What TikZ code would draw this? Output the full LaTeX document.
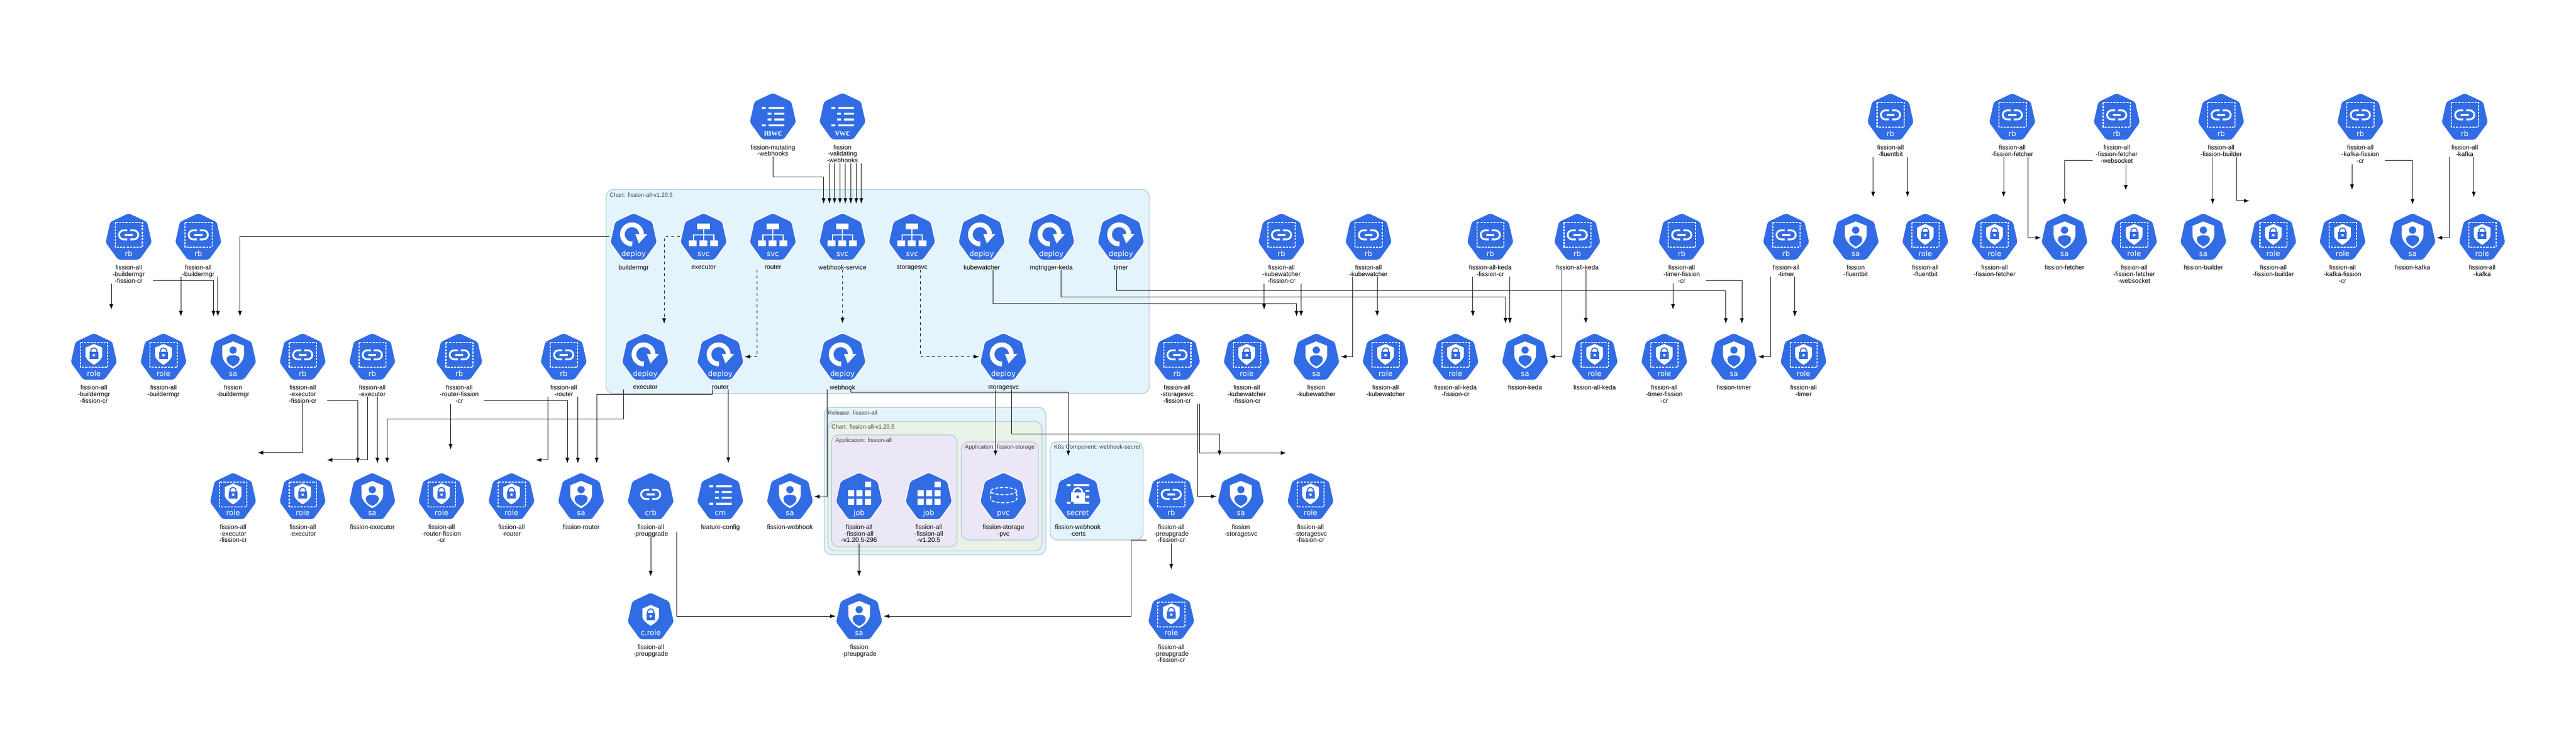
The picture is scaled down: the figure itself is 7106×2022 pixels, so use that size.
\documentclass[tikz,border=0pt]{standalone}
\usepackage{fontspec}
\setmainfont{Liberation Sans}
\newfontfamily\iconfont{DejaVu Sans}
\newfontfamily\iconserif{Liberation Serif}
\usetikzlibrary{arrows.meta}

\definecolor{kubeblue}{HTML}{326CE5}
\definecolor{boxline}{HTML}{B4C6D4}
\definecolor{boxblue}{HTML}{E3F4FD}
\definecolor{boxgreen}{HTML}{E9F2E6}
\definecolor{boxlilac}{HTML}{EBE7F6}

\tikzset{
	kubefill/.style={fill=kubeblue,draw=white,line width=0.025cm,rounded corners=0.07cm},
	kubetext/.style={anchor=base,inner sep=0pt,text=white,font=\iconfont\fontsize{5.7}{6}\selectfont},
	kubelabel/.style={anchor=north,inner sep=0pt,align=center,font=\fontsize{5}{5.12}\selectfont},
	kubenode/.style={minimum size=0.01cm,inner sep=0pt},
	boxtitle/.style={anchor=west,inner sep=0pt,text=black!75,font=\fontsize{4.55}{5}\selectfont},
	cluster/.style={draw=boxline,line width=0.02cm,rounded corners=0.2cm},
	link/.style={draw=black,line width=0.013cm,-{Latex[length=0.15cm,width=0.11cm]}},
	dashlink/.style={link,dash pattern=on 0.08cm off 0.08cm}
}

% glyphs inside the heptagon
\newcommand{\glyphbox}{\draw[white,line width=0.03cm,dash pattern=on 0.06cm off 0.03cm] (-37,-39) rectangle (38,29);}
\newcommand{\glyphchain}{
	\draw[white,line width=0.05cm] (-4,-17.5) -- (-14,-17.5) arc[start angle=90,delta angle=180,radius=0.125cm] -- (-4,7.5);
	\draw[white,line width=0.05cm] (4,7.5) -- (14,7.5) arc[start angle=-90,delta angle=180,radius=0.125cm] -- (4,-17.5);
	\fill[white] (-11,-8) rectangle (11,-2);
}
\newcommand{\glyphrb}{\glyphbox\glyphchain}
\newcommand{\glyphlock}{
	\fill[white] (0,-35) -- (23,-25) -- (23,-3) .. controls (23,6) and (10,17) .. (0,22.5) .. controls (-10,17) and (-23,6) .. (-23,-3) -- (-23,-25) -- cycle;
	\draw[kubeblue,line width=0.03cm] (-8.5,-13) -- (-8.5,-15.5) arc[start angle=180,delta angle=-180,radius=0.085cm] -- (8.5,-13);
	\fill[kubeblue] (-12,-13) rectangle (12,7);
	\fill[white] (0,-4) circle[radius=0.035cm];
}
\newcommand{\glyphrole}{\glyphbox\glyphlock}
\newcommand{\glyphcrole}{\begin{scope}[shift={(0,4)}]\glyphlock\end{scope}}
\newcommand{\glyphsa}{
	\fill[white] (0,-42) -- (30,-30) -- (30,-5) .. controls (30,12) and (13,27) .. (0,33) .. controls (-13,27) and (-30,12) .. (-30,-5) -- (-30,-30) -- cycle;
	\fill[kubeblue] (0,-18) circle[radius=0.1cm];
	\fill[kubeblue] (0,27) .. controls (-10,22) and (-18,17) .. (-18,7) .. controls (-18,-1) and (-10,-4) .. (0,-4) .. controls (10,-4) and (18,-1) .. (18,7) .. controls (18,17) and (10,22) .. (0,27) -- cycle;
}
\newcommand{\glyphdeploy}{
	\draw[white,line width=0.13cm] (-3.8,20.2) arc[start angle=-88,delta angle=-270,radius=0.265cm];
	\fill[white] (4.3,-7.3) -- (38,-7.3) -- (14.3,18.7) -- cycle;
}
\newcommand{\glyphsvc}{
	\fill[white] (-17.7,-36.3) rectangle (16.7,-20.7);
	\draw[white,line width=0.03cm] (0,-21) -- (0,11) (-28,11) -- (-28,-5.3) -- (28,-5.3) -- (28,11);
	\fill[white] (-41,10.3) rectangle (-19.3,26) (-11.7,10.3) rectangle (10,26) (18,10.3) rectangle (39.7,26);
}
\newcommand{\glyphlist}[1]{\begin{scope}[shift={(0,#1)}]
	\fill[white] (-30.7,-30) rectangle (-19.7,-24.5) (-11.7,-30) rectangle (31.7,-24.5);
	\fill[white] (-14.7,-14) rectangle (-4,-8.7) (4,-14) rectangle (31.7,-8.7);
	\fill[white] (-14.7,2) rectangle (-4,7.3) (4,2) rectangle (31.7,7.3);
	\fill[white] (-30.7,18) rectangle (-19.7,23.5) (-11.7,18) rectangle (31.7,23.5);
\end{scope}}
\newcommand{\glyphcm}{\glyphlist{0}}
\newcommand{\glyphwc}{\glyphlist{4}}
\newcommand{\glyphjob}{
	\fill[white] (16,-40.7) rectangle (32.7,-24);
	\fill[white] (-30.7,-16.7) rectangle (-14,0) (-7.3,-16.7) rectangle (9.3,0) (16,-16.7) rectangle (32.7,0);
	\fill[white] (-30.7,7.3) rectangle (-14,23.7) (-7.3,7.3) rectangle (9.3,23.7) (16,7.3) rectangle (32.7,23.7);
}
\newcommand{\glyphpvc}{
	\draw[white,line width=0.028cm,dash pattern=on 0.09cm off 0.045cm] (0.7,-14) ellipse[x radius=0.36cm,y radius=0.1cm];
	\draw[white,line width=0.028cm,dash pattern=on 0.09cm off 0.045cm] (-35.3,-14) -- (-35.3,8) arc[start angle=180,end angle=360,x radius=0.36cm,y radius=0.1cm] -- (36.7,-14);
}
\newcommand{\glyphsecret}{
	\fill[white] (-30.3,-33.3) rectangle (-19.7,-28) (-11.3,-33.3) rectangle (32,-28);
	\fill[white] (22,-17.3) rectangle (32,-12) (22,-1.3) rectangle (32,4.7);
	\fill[white] (-30.3,15.3) rectangle (-19.7,21) (-11.3,15.3) rectangle (32,21);
	\draw[kubeblue,line width=0.08cm] (-12.5,-10) arc[start angle=180,delta angle=-180,radius=0.125cm];
	\draw[white,line width=0.045cm] (-12.5,-10) arc[start angle=180,delta angle=-180,radius=0.125cm];
	\fill[white] (-19,-10.7) rectangle (20.7,15.3);
	\fill[kubeblue] (0,2) circle[radius=0.04cm];
}

% name, x, y, glyph, icon text, label
\newcommand{\kube}[6]{
	\begin{scope}[shift={(#2,#3)}]
		\filldraw[kubefill] (0,-66) -- (52,-41.5) -- (65,16.5) -- (30,65) -- (-30,65) -- (-65,16.5) -- (-52,-41.5) -- cycle;
		#4
		\node[kubenode] (#1) at (0,0) {};
		\node[kubetext] (#1text) at (0,53.5) {#5};
		\node[kubelabel] (#1label) at (0,78) {#6};
	\end{scope}
}

\begin{document}
\begin{tikzpicture}[x=0.01cm,y=-0.01cm]
\useasboundingbox (0,0) rectangle (7106,2022);

% clusters
\draw[cluster,fill=boxblue] (1672,523) rectangle (3170,1086);
\node[boxtitle] (charttitle) at (1681,538) {Chart: fission-all-v1.20.5};
\draw[cluster,fill=boxblue] (2273.5,1124) rectangle (2885,1530.5);
\node[boxtitle] (releasetitle) at (2283,1139) {Release: fission-all};
\draw[cluster,fill=boxgreen] (2284,1162.5) rectangle (2874.5,1520);
\node[boxtitle] (subcharttitle) at (2293,1177) {Chart: fission-all-v1.20.5};
\draw[cluster,fill=boxlilac] (2294,1200) rectangle (2640,1509);
\node[boxtitle] (apptitle) at (2304,1216) {Application: fission-all};
\draw[cluster,fill=boxlilac] (2652,1219) rectangle (2864,1490);
\node[boxtitle] (storagetitle) at (2661,1235) {Application: fission-storage};
\draw[cluster,fill=boxblue] (2897,1219) rectangle (3153,1490);
\node[boxtitle] (secrettitle) at (2907,1235) {K8s Component: webhook-secret};

% top row
\kube{mwc}{2132}{321}{\glyphwc}{\iconserif\bfseries\fontsize{7}{7}\selectfont mwc}{fission-mutating\\-webhooks}
\kube{vwc}{2324}{321}{\glyphwc}{\iconserif\bfseries\fontsize{7}{7}\selectfont vwc}{fission\\-validating\\-webhooks}
\kube{rbFluent}{5215}{322}{\glyphrb}{rb}{fission-all\\-fluentbit}
\kube{rbFetcher}{5551}{322}{\glyphrb}{rb}{fission-all\\-fission-fetcher}
\kube{rbWs}{5839}{322}{\glyphrb}{rb}{fission-all\\-fission-fetcher\\-websocket}
\kube{rbBuilder}{6127}{322}{\glyphrb}{rb}{fission-all\\-fission-builder}
\kube{rbKafkaCr}{6511}{322}{\glyphrb}{rb}{fission-all\\-kafka-fission\\-cr}
\kube{rbKafka}{6799}{322}{\glyphrb}{rb}{fission-all\\-kafka}

% second row
\kube{rbBmgrCr}{355}{653}{\glyphrb}{rb}{fission-all\\-buildermgr\\-fission-cr}
\kube{rbBmgr}{547}{653}{\glyphrb}{rb}{fission-all\\-buildermgr}
\kube{deployBmgr}{1748}{653}{\glyphdeploy}{deploy}{buildermgr}
\kube{svcExec}{1941}{653}{\glyphsvc}{svc}{executor}
\kube{svcRouter}{2132}{653}{\glyphsvc}{svc}{router}
\kube{svcWebhook}{2324}{653}{\glyphsvc}{svc}{webhook-service}
\kube{svcStorage}{2516}{653}{\glyphsvc}{svc}{storagesvc}
\kube{deployKube}{2708}{653}{\glyphdeploy}{deploy}{kubewatcher}
\kube{deployKeda}{2900}{653}{\glyphdeploy}{deploy}{mqtrigger-keda}
\kube{deployTimer}{3092}{653}{\glyphdeploy}{deploy}{timer}
\kube{rbKubeCr}{3535}{653}{\glyphrb}{rb}{fission-all\\-kubewatcher\\-fission-cr}
\kube{rbKube}{3775}{653}{\glyphrb}{rb}{fission-all\\-kubewatcher}
\kube{rbKedaCr}{4111}{653}{\glyphrb}{rb}{fission-all-keda\\-fission-cr}
\kube{rbKeda}{4351}{653}{\glyphrb}{rb}{fission-all-keda}
\kube{rbTimerCr}{4639}{653}{\glyphrb}{rb}{fission-all\\-timer-fission\\-cr}
\kube{rbTimer}{4927}{653}{\glyphrb}{rb}{fission-all\\-timer}
\kube{saFluent}{5119}{653}{\glyphsa}{sa}{fission\\-fluentbit}
\kube{roleFluent}{5311}{653}{\glyphrole}{role}{fission-all\\-fluentbit}
\kube{roleFetcher}{5502}{653}{\glyphrole}{role}{fission-all\\-fission-fetcher}
\kube{saFetcher}{5695}{653}{\glyphsa}{sa}{fission-fetcher}
\kube{roleWs}{5887}{653}{\glyphrole}{role}{fission-all\\-fission-fetcher\\-websocket}
\kube{saBuilder}{6078}{653}{\glyphsa}{sa}{fission-builder}
\kube{roleBuilder}{6271}{653}{\glyphrole}{role}{fission-all\\-fission-builder}
\kube{roleKafkaCr}{6462}{653}{\glyphrole}{role}{fission-all\\-kafka-fission\\-cr}
\kube{saKafka}{6655}{653}{\glyphsa}{sa}{fission-kafka}
\kube{roleKafka}{6847}{653}{\glyphrole}{role}{fission-all\\-kafka}

% third row
\kube{roleBmgrCr}{259}{984}{\glyphrole}{role}{fission-all\\-buildermgr\\-fission-cr}
\kube{roleBmgr}{451}{984}{\glyphrole}{role}{fission-all\\-buildermgr}
\kube{saBmgr}{643}{984}{\glyphsa}{sa}{fission\\-buildermgr}
\kube{rbExecCr}{835}{984}{\glyphrb}{rb}{fission-all\\-executor\\-fission-cr}
\kube{rbExec}{1027}{984}{\glyphrb}{rb}{fission-all\\-executor}
\kube{rbRouterCr}{1267}{984}{\glyphrb}{rb}{fission-all\\-router-fission\\-cr}
\kube{rbRouter}{1555}{984}{\glyphrb}{rb}{fission-all\\-router}
\kube{deployExec}{1780}{984}{\glyphdeploy}{deploy}{executor}
\kube{deployRouter}{1987}{984}{\glyphdeploy}{deploy}{router}
\kube{deployWebhook}{2324}{984}{\glyphdeploy}{deploy}{webhook}
\kube{deployStorage}{2768}{984}{\glyphdeploy}{deploy}{storagesvc}
\kube{rbStorageCr}{3247}{984}{\glyphrb}{rb}{fission-all\\-storagesvc\\-fission-cr}
\kube{roleKubeCr}{3439}{984}{\glyphrole}{role}{fission-all\\-kubewatcher\\-fission-cr}
\kube{saKube}{3631}{984}{\glyphsa}{sa}{fission\\-kubewatcher}
\kube{roleKube}{3822}{984}{\glyphrole}{role}{fission-all\\-kubewatcher}
\kube{roleKedaCr}{4015}{984}{\glyphrole}{role}{fission-all-keda\\-fission-cr}
\kube{saKeda}{4207}{984}{\glyphsa}{sa}{fission-keda}
\kube{roleKeda}{4399}{984}{\glyphrole}{role}{fission-all-keda}
\kube{roleTimerCr}{4591}{984}{\glyphrole}{role}{fission-all\\-timer-fission\\-cr}
\kube{saTimer}{4783}{984}{\glyphsa}{sa}{fission-timer}
\kube{roleTimer}{4975}{984}{\glyphrole}{role}{fission-all\\-timer}

% fourth row
\kube{roleExecCr}{643}{1369}{\glyphrole}{role}{fission-all\\-executor\\-fission-cr}
\kube{roleExec}{835}{1369}{\glyphrole}{role}{fission-all\\-executor}
\kube{saExec}{1027}{1369}{\glyphsa}{sa}{fission-executor}
\kube{roleRouterCr}{1218}{1369}{\glyphrole}{role}{fission-all\\-router-fission\\-cr}
\kube{roleRouter}{1411}{1369}{\glyphrole}{role}{fission-all\\-router}
\kube{saRouter}{1603}{1369}{\glyphsa}{sa}{fission-router}
\kube{crbPre}{1795}{1369}{\glyphchain}{crb}{fission-all\\-preupgrade}
\kube{cmFeature}{1987}{1369}{\glyphcm}{cm}{feature-config}
\kube{saWebhook}{2179}{1369}{\glyphsa}{sa}{fission-webhook}
\kube{jobOne}{2370}{1369}{\glyphjob}{job}{fission-all\\-fission-all\\-v1.20.5-296}
\kube{jobTwo}{2562}{1369}{\glyphjob}{job}{fission-all\\-fission-all\\-v1.20.5}
\kube{pvcStorage}{2768}{1369}{\glyphpvc}{pvc}{fission-storage\\-pvc}
\kube{secretCerts}{2973}{1369}{\glyphsecret}{secret}{fission-webhook\\-certs}
\kube{rbPreCr}{3231}{1369}{\glyphrb}{rb}{fission-all\\-preupgrade\\-fission-cr}
\kube{saStorage}{3423}{1369}{\glyphsa}{sa}{fission\\-storagesvc}
\kube{roleStorageCr}{3615}{1369}{\glyphrole}{role}{fission-all\\-storagesvc\\-fission-cr}

% bottom row
\kube{crolePre}{1795}{1700}{\glyphcrole}{c.role}{fission-all\\-preupgrade}
\kube{saPre}{2370}{1700}{\glyphsa}{sa}{fission\\-preupgrade}
\kube{rolePreCr}{3231}{1700}{\glyphrole}{role}{fission-all\\-preupgrade\\-fission-cr}

% buildermgr
\draw[link] ([shift={(-48,130)}]rbBmgrCr.center) -- ([shift={(48,-130)}]roleBmgrCr.center);
\draw[link] ([shift={(67,121)}]rbBmgrCr.center) -| ([shift={(-54,-111)}]saBmgr.center);
\draw[link] ([shift={(-48,110)}]rbBmgr.center) -- ([shift={(48,-111)}]roleBmgr.center);
\draw[link] ([shift={(54,110)}]rbBmgr.center) -- ([shift={(-42,-111)}]saBmgr.center);
\draw[link] ([shift={(-67,0)}]deployBmgr.center) -| ([shift={(19,-111)}]saBmgr.center);

% executor
\draw[link] ([shift={(67,121)}]rbExecCr.center) -| ([shift={(-40,-91)}]saExec.center);
\draw[link] ([shift={(0,128)}]rbExecCr.center) |- ([shift={(68,-120)}]roleExecCr.center);
\draw[link] ([shift={(-13,110)}]rbExec.center) |- ([shift={(67,-100)}]roleExec.center);
\draw[link] ([shift={(14,110)}]rbExec.center) -- ([shift={(14,-91)}]saExec.center);
\draw[link] ([shift={(-60,91)}]deployExec.center) -- ++(0,80.6) -| ([shift={(41,-91)}]saExec.center);

% router
\draw[link] ([shift={(67,121)}]rbRouterCr.center) -| ([shift={(-38,-91)}]saRouter.center);
\draw[link] ([shift={(-24,130)}]rbRouterCr.center) -- ([shift={(25,-129)}]roleRouterCr.center);
\draw[link] ([shift={(-43,110)}]rbRouter.center) |- ([shift={(67,-100)}]roleRouter.center);
\draw[link] ([shift={(39,110)}]rbRouter.center) -- ([shift={(-9,-91)}]saRouter.center);
\draw[link] ([shift={(-22,91)}]deployRouter.center) -- ++(0,13) -| ([shift={(43,-91)}]saRouter.center);
\draw[link] ([shift={(22,91)}]deployRouter.center) -- ([shift={(22,-92)}]cmFeature.center);

% preupgrade
\draw[link] ([shift={(0,110)}]crbPre.center) -- ([shift={(0,-110)}]crolePre.center);
\draw[link] ([shift={(69,101)}]crbPre.center) -- ++(3,0) |- ([shift={(-65,0)}]saPre.center);
\draw[link] ([shift={(0,130.5)}]jobOne.center) -- ([shift={(0,-110)}]saPre.center);
\draw[link] ([shift={(0,130.5)}]rbPreCr.center) -- ([shift={(0,-129)}]rolePreCr.center);
\draw[link] ([shift={(-67,121)}]rbPreCr.center) -- ++(-44,0) |- ([shift={(68,0)}]saPre.center);

% webhook and storage
\draw[link] ([shift={(-43,91)}]deployWebhook.center) |- ([shift={(67,1)}]saWebhook.center);
\draw[link] ([shift={(23,91)}]deployWebhook.center) -- ++(0,6.6) -| ([shift={(-26,-111)}]secretCerts.center);
\draw[link] ([shift={(-22,91)}]deployStorage.center) -- ([shift={(-22,-111)}]pvcStorage.center);
\draw[link] ([shift={(23,91)}]deployStorage.center) -- ++(0,123) -| ([shift={(-59,-111)}]saStorage.center);
\draw[link] ([shift={(62,130)}]rbStorageCr.center) |- ([shift={(-67,-119.4)}]roleStorageCr.center);
\draw[link] ([shift={(57,130)}]rbStorageCr.center) |- ([shift={(-67,0.5)}]saStorage.center);

% webhook configurations
\draw[link] ([shift={(0,111.5)}]mwc.center) -- ++(0,55.5) -| ([shift={(-52,-91)}]svcWebhook.center);
\draw[link] ([shift={(-36,130)}]vwc.center) -- ([shift={(-36,-91)}]svcWebhook.center);
\draw[link] ([shift={(-22,130)}]vwc.center) -- ([shift={(-22,-91)}]svcWebhook.center);
\draw[link] ([shift={(-7,130)}]vwc.center) -- ([shift={(-7,-91)}]svcWebhook.center);
\draw[link] ([shift={(8,130)}]vwc.center) -- ([shift={(8,-91)}]svcWebhook.center);
\draw[link] ([shift={(23,130)}]vwc.center) -- ([shift={(23,-91)}]svcWebhook.center);
\draw[link] ([shift={(38,130)}]vwc.center) -- ([shift={(38,-91)}]svcWebhook.center);
\draw[link] ([shift={(52,130)}]vwc.center) -- ([shift={(52,-91)}]svcWebhook.center);

% services to deployments
\draw[dashlink] ([shift={(-65.5,0)}]svcExec.center) -| ([shift={(52,-91)}]deployExec.center);
\draw[dashlink] ([shift={(-43,91)}]svcRouter.center) |- ([shift={(67,0)}]deployRouter.center);
\draw[dashlink] ([shift={(0,91)}]svcWebhook.center) -- ([shift={(0,-92)}]deployWebhook.center);
\draw[dashlink] ([shift={(23,91)}]svcStorage.center) |- ([shift={(-67,0)}]deployStorage.center);

% deployments to service accounts
\draw[link] ([shift={(31,91)}]deployKube.center) -- ++(0,94) -| ([shift={(-54.5,-111)}]saKube.center);
\draw[link] ([shift={(26.5,91)}]deployKeda.center) -- ++(0,75) -| ([shift={(-54,-91.5)}]saKeda.center);
\draw[link] ([shift={(-11.4,91)}]deployTimer.center) -- ++(0,58) -| ([shift={(-22.4,-91)}]saTimer.center);

% kubewatcher, keda, timer
\draw[link] ([shift={(-48,130)}]rbKubeCr.center) -- ([shift={(48,-130)}]roleKubeCr.center);
\draw[link] ([shift={(54,130)}]rbKubeCr.center) -- ([shift={(-42,-111)}]saKube.center);
\draw[link] ([shift={(24,110.6)}]rbKube.center) -- ([shift={(-23,-111)}]roleKube.center);
\draw[link] ([shift={(-43.4,110.6)}]rbKube.center) |- ([shift={(68,0)}]saKube.center);
\draw[link] ([shift={(-48,110.6)}]rbKedaCr.center) -- ([shift={(48,-111)}]roleKedaCr.center);
\draw[link] ([shift={(54,110.6)}]rbKedaCr.center) -- ([shift={(-42,-91.5)}]saKeda.center);
\draw[link] ([shift={(-43,91.5)}]rbKeda.center) |- ([shift={(67.5,0)}]saKeda.center);
\draw[link] ([shift={(23.5,91.5)}]rbKeda.center) -- ([shift={(-24.5,-91.5)}]roleKeda.center);
\draw[link] ([shift={(-24,129)}]rbTimerCr.center) -- ([shift={(24,-130)}]roleTimerCr.center);
\draw[link] ([shift={(67,121)}]rbTimerCr.center) -| ([shift={(22,-91)}]saTimer.center);
\draw[link] ([shift={(24,110.7)}]rbTimer.center) -- ([shift={(-24,-110.4)}]roleTimer.center);
\draw[link] ([shift={(-43,110.7)}]rbTimer.center) |- ([shift={(67,0)}]saTimer.center);

% fluentbit, fetcher, builder, kafka
\draw[link] ([shift={(-48,111)}]rbFluent.center) -- ([shift={(48,-109)}]saFluent.center);
\draw[link] ([shift={(47,111)}]rbFluent.center) -- ([shift={(-49,-109.5)}]roleFluent.center);
\draw[link] ([shift={(-24,111)}]rbFetcher.center) -- ([shift={(25,-109)}]roleFetcher.center);
\draw[link] ([shift={(43.5,111)}]rbFetcher.center) |- ([shift={(-65,3)}]saFetcher.center);
\draw[link] ([shift={(-66,120)}]rbWs.center) -| ([shift={(0,-89)}]saFetcher.center);
\draw[link] ([shift={(25,131)}]rbWs.center) -- ([shift={(-23,-128)}]roleWs.center);
\draw[link] ([shift={(-23.4,111)}]rbBuilder.center) -- ([shift={(25.6,-89.5)}]saBuilder.center);
\draw[link] ([shift={(43,111)}]rbBuilder.center) |- ([shift={(-66,-99)}]roleBuilder.center);
\draw[link] ([shift={(-23,131)}]rbKafkaCr.center) -- ([shift={(26,-129)}]roleKafkaCr.center);
\draw[link] ([shift={(68,120)}]rbKafkaCr.center) -| ([shift={(0,-89)}]saKafka.center);
\draw[link] ([shift={(-42,111)}]rbKafka.center) |- ([shift={(67,3)}]saKafka.center);
\draw[link] ([shift={(25,111)}]rbKafka.center) -- ([shift={(-23,-109)}]roleKafka.center);

\end{tikzpicture}
\end{document}
